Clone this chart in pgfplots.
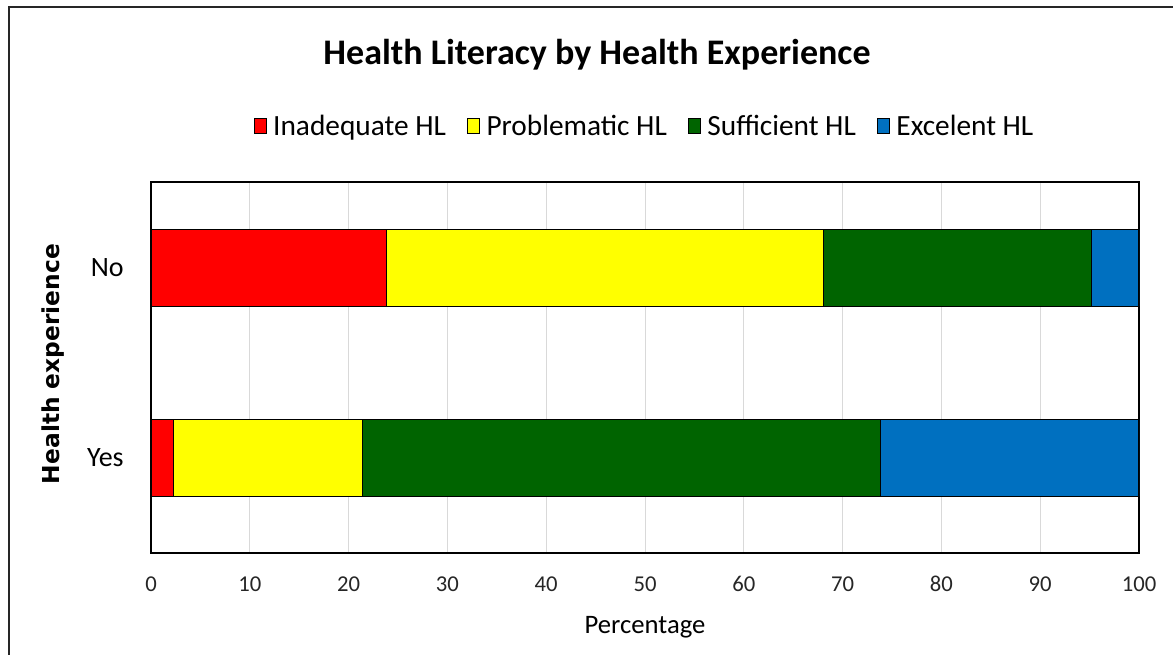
\documentclass[border=0pt]{standalone}
\usepackage{pgfplots}
\pgfplotsset{compat=1.18}
\usepackage{fontspec}
\setmainfont{Carlito}
\newfontfamily\dejavu{DejaVu Sans}

\definecolor{hlred}{RGB}{255,0,0}
\definecolor{hlyellow}{RGB}{255,255,0}
\definecolor{hlgreen}{RGB}{0,100,0}
\definecolor{hlblue}{RGB}{0,112,192}

% y = 0 -> Yes, y = 1 -> No
\pgfplotstableread{
y  inad  prob  suff  exc
0  2.3   19.1  52.4  26.2
1  23.8  44.3  27.1  4.8
}\hldata

\begin{document}
\begin{tikzpicture}[x=0.75pt,y=-0.75pt]
\path[use as bounding box] (0,0) rectangle (1173,654);
\draw[line width=1.5pt, black!85] (9,660) -- (9,7) -- (1180,7);
\begin{axis}[
  at={(113.25pt,-414.75pt)}, anchor=south west,
  scale only axis, width=741pt, height=278.25pt,
  xbar stacked, bar width=57.75pt,
  xmin=0, xmax=100, ymin=-0.5, ymax=1.45,
  xtick={0,10,...,100}, ytick={0,1}, yticklabels={Yes,No},
  major tick length=0pt,
  xmajorgrids, grid style={draw=black!15, line width=0.6pt},
  axis line style={line width=0.8pt},
  tick label style={font=\fontsize{17}{19}\selectfont},
  /pgf/number format/assume math mode=true,
  xticklabel style={yshift=-14pt, text=black!85},
  yticklabel style={font=\fontsize{21}{23}\selectfont, xshift=-17pt},
  legend columns=4,
  legend style={at={(0.5,1.151)}, anchor=center, draw=none, fill=none,
    font=\fontsize{22}{24}\selectfont,
    /tikz/every even column/.append style={column sep=14pt}},
  legend image code/.code={\draw[#1, draw=black, line width=0.4pt] (0pt,-5.5pt) rectangle (9pt,5.5pt);},
  every axis plot/.append style={draw=black, line width=0.8pt},
]
\addplot[fill=hlred] table[x=inad, y=y] {\hldata};
\addplot[fill=hlyellow] table[x=prob, y=y] {\hldata};
\addplot[fill=hlgreen] table[x=suff, y=y] {\hldata};
\addplot[fill=hlblue] table[x=exc, y=y] {\hldata};
\legend{\hspace{3pt}Inadequate HL, \hspace{3pt}Problematic HL, \hspace{3pt}Sufficient HL, \hspace{3pt}Excelent HL}
\end{axis}
\node[font=\bfseries\fontsize{27}{30}\selectfont] at (597,55) {Health Literacy by Health Experience};
\node[font=\fontsize{20}{22}\selectfont] at (645,627) {Percentage};
\node[font=\dejavu\bfseries\fontsize{17.5}{20}\selectfont, rotate=90] at (53,364) {Health experience};
\end{tikzpicture}
\end{document}
